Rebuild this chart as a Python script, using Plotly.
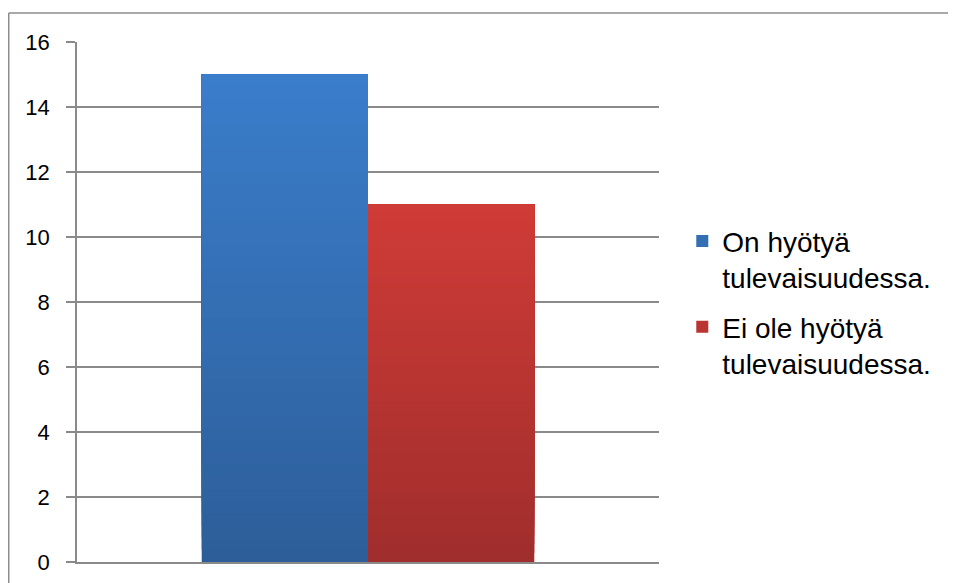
import plotly.graph_objects as go

# ---- data ----
categories = [""]
series_names = ["On hyötyä<br>tulevaisuudessa.", "Ei ole hyötyä<br>tulevaisuudessa."]
series_values = [15, 11]
y_ticks = [0, 2, 4, 6, 8, 10, 12, 14, 16]

# ---- styles ----
top_colors = [(58, 125, 202), (207, 59, 55)]
bottom_colors = [(45, 94, 154), (160, 46, 44)]
N_SLICES = 40


def mix(c1, c2, t):
    return "rgb(%d,%d,%d)" % tuple(round(a + (b - a) * t) for a, b in zip(c1, c2))


fig = go.Figure()
for s, (name, v) in enumerate(zip(series_names, series_values)):
    # gradient: overlapping bars from increasing base up to the value
    for i in range(N_SLICES):
        t = i / (N_SLICES - 1)
        base = v * i / N_SLICES
        fig.add_trace(go.Bar(
            x=categories,
            y=[v - base],
            base=[base],
            offsetgroup=str(s),
            marker=dict(color=mix(bottom_colors[s], top_colors[s], t), line=dict(width=0)),
            name=name,
            legendgroup=str(s),
            showlegend=False,
            hoverinfo="skip",
        ))
    # legend entry
    fig.add_trace(go.Bar(
        x=categories, y=[None], offsetgroup=str(s), name=name, legendgroup=str(s),
        marker=dict(color=mix(bottom_colors[s], top_colors[s], 0.55), line=dict(width=0)),
        showlegend=True,
    ))

grid = "#8a8a8a"
fig.update_layout(
    width=956, height=583,
    margin=dict(l=69, r=305, t=34, b=29),
    paper_bgcolor="white", plot_bgcolor="white",
    barmode="group", bargap=0.4286, bargroupgap=0,
    font=dict(family="Liberation Sans, Arial, sans-serif", color="black"),
    legend=dict(x=1.04, y=0.665, xanchor="left", yanchor="top",
                font=dict(size=28, color="black"), valign="top",
                itemwidth=30, bgcolor="rgba(0,0,0,0)"),
    showlegend=True,
)
fig.update_yaxes(range=[0, 16], tickvals=y_ticks, showgrid=True, gridcolor=grid, gridwidth=1.5,
                 showline=True, linecolor=grid, linewidth=1.5, ticks="outside", ticklen=9,
                 tickcolor=grid, tickwidth=1.5, tickfont=dict(size=22, color="black"),
                 ticklabelstandoff=12, zeroline=False)
fig.update_xaxes(showline=True, linecolor=grid, linewidth=1.5, showticklabels=False, ticks="",
                 showgrid=False, zeroline=False)

# chart area border (top and left)
fig.add_shape(type="line", xref="paper", yref="paper", x0=-0.1173, x1=1.55, y0=1.0558, y1=1.0558,
              line=dict(color="#8c8c8c", width=1.5))
fig.add_shape(type="line", xref="paper", yref="paper", x0=-0.1173, x1=-0.1173, y0=1.0558, y1=-0.07,
              line=dict(color="#8c8c8c", width=1.5))

fig.write_html("out.html")
